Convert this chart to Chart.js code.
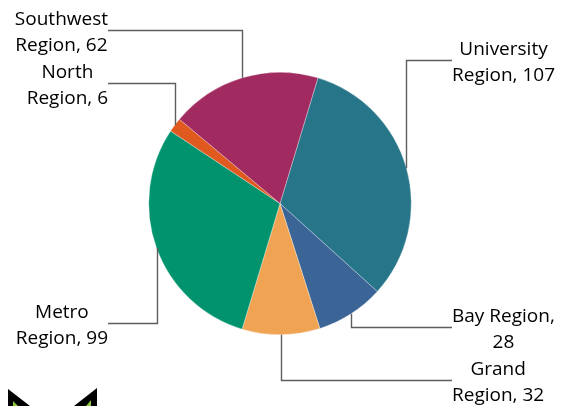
<!DOCTYPE html>
<html>
<head>
<meta charset="utf-8">
<script src="https://cdn.jsdelivr.net/npm/chart.js@4"></script>
<style>
  html, body { margin: 0; padding: 0; background: #fff; }
  canvas { display: block; }
</style>
</head>
<body>
<canvas id="chart-pie" width="571" height="406"></canvas>
<script>
// data
const regions = ['University Region', 'Bay Region', 'Grand Region', 'Metro Region', 'North Region', 'Southwest Region'];
const counts = [107, 28, 32, 99, 6, 62];
const sliceColors = ['#277589', '#3c6597', '#f0a453', '#00936e', '#e0591f', '#a12b60'];

// label layout: which side and where the leader line bends
const labelSide = ['right', 'right', 'right', 'left', 'left', 'left'];
const labelElbowY = [60, 327, 380, 323, 83, 30];

const FONT = '19px "Open Sans"';
const WRAP_WIDTH = 108;

function wrapText(ctx, text, maxW) {
  const words = text.split(' ');
  const lines = [];
  let cur = '';
  words.forEach(w => {
    const test = cur ? cur + ' ' + w : w;
    if (cur && ctx.measureText(test).width > maxW) {
      lines.push(cur);
      cur = w;
    } else {
      cur = test;
    }
  });
  if (cur) lines.push(cur);
  return lines;
}

const leaderLabels = {
  id: 'leaderLabels',
  afterDraw(chart) {
    const ctx = chart.ctx;
    const meta = chart.getDatasetMeta(0);
    ctx.save();
    ctx.font = FONT;
    meta.data.forEach((arc, i) => {
      const p = arc.getProps(['x', 'y', 'startAngle', 'endAngle', 'outerRadius'], true);
      const mid = (p.startAngle + p.endAngle) / 2;
      const px = Math.round(p.x + p.outerRadius * Math.cos(mid)) + 0.5;
      const py = p.y + p.outerRadius * Math.sin(mid);
      const ey = Math.round(labelElbowY[i]) + 0.5;
      const right = labelSide[i] === 'right';
      const endX = right ? 452 : 108;

      ctx.strokeStyle = '#5e5e5e';
      ctx.lineWidth = 1.4;
      ctx.beginPath();
      ctx.moveTo(px, py);
      ctx.lineTo(px, ey);
      ctx.lineTo(endX, ey);
      ctx.stroke();

      const lines = wrapText(ctx, regions[i] + ', ' + counts[i], WRAP_WIDTH);
      const maxW = Math.max(...lines.map(l => ctx.measureText(l).width));
      const cx = right ? endX + maxW / 2 : endX - maxW / 2;
      ctx.fillStyle = '#000';
      ctx.textAlign = 'center';
      ctx.textBaseline = 'alphabetic';
      lines.forEach((l, k) => {
        ctx.fillText(l, cx, ey - 6 + k * 26.5);
      });
    });

    // partial logo peeking in at the bottom left
    ctx.fillStyle = '#000';
    ctx.beginPath();
    ctx.moveTo(8, 389); ctx.lineTo(30, 406); ctx.lineTo(8, 406); ctx.closePath();
    ctx.fill();
    ctx.beginPath();
    ctx.moveTo(97, 388); ctx.lineTo(97, 406); ctx.lineTo(74, 406); ctx.closePath();
    ctx.fill();
    ctx.fillStyle = '#8cc63f';
    ctx.beginPath();
    ctx.moveTo(13, 401); ctx.lineTo(18, 406); ctx.lineTo(13, 406); ctx.closePath();
    ctx.fill();
    ctx.beginPath();
    ctx.moveTo(91, 400); ctx.lineTo(91, 406); ctx.lineTo(86, 406); ctx.closePath();
    ctx.fill();
    ctx.restore();
  }
};

new Chart(document.getElementById('chart-pie'), {
  type: 'pie',
  data: {
    labels: regions,
    datasets: [{
      data: counts,
      backgroundColor: sliceColors,
      borderColor: 'rgba(255,255,255,0.6)',
      borderWidth: 0.5,
    }]
  },
  options: {
    responsive: false,
    animation: false,
    rotation: 16.8,
    layout: { padding: { top: 72, bottom: 71, left: 148, right: 159 } },
    plugins: {
      legend: { display: false },
      tooltip: { enabled: false }
    }
  },
  plugins: [leaderLabels]
});
</script>
</body>
</html>
